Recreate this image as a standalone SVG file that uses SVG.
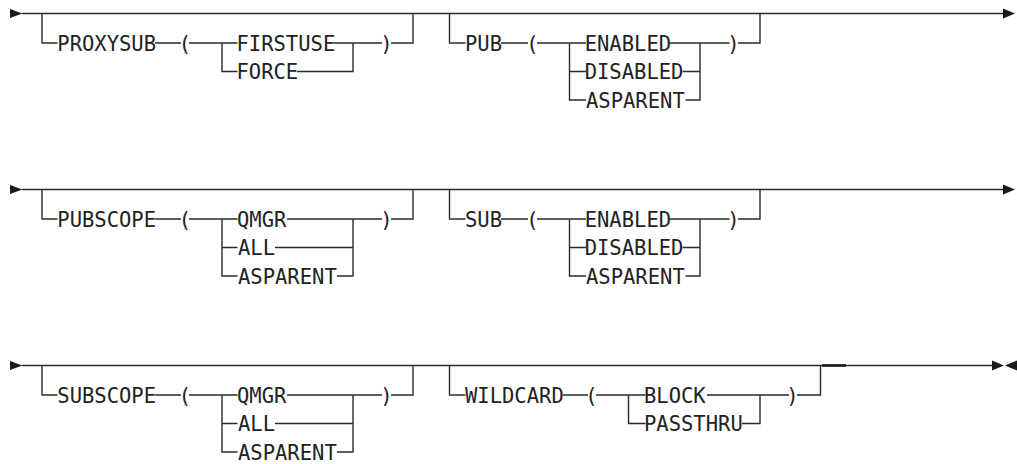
<svg xmlns="http://www.w3.org/2000/svg" width="1017" height="464" viewBox="0 0 1017 464">
<style>
.t{font-family:"DejaVu Sans Mono","Liberation Mono",monospace;font-size:20.5px;fill:#222}
.m{text-anchor:middle}
.c{fill:none;stroke:#2b2b2b;stroke-width:1.4}
.a{fill:#1a1a1a}
</style>
<rect width="1017" height="464" fill="#fff"/>
<g id="connectors">
<!-- row 1 -->
<path class="c" d="M22 13.5H1003"/>
<polygon class="a" points="10,9 10,18 22.5,13.5"/>
<polygon class="a" points="1003,8.5 1003,18.5 1015,13.5"/>
<path class="c" d="M42 13.5V43H57.5M155 43H181M189 43H237.5M222 43V71.5H237.5M334 43H382M297 71.5H353V43M391 43H413V13.5"/>
<path class="c" d="M449.5 13.5V43H465.5M501 43H528M537 43H586M569.5 43V100H586M569.5 71.5H586M670 43H729.5M682.5 71.5H700M685.5 100H700V43M738 43H760V13.5"/>
<!-- row 2 -->
<path class="c" d="M22 189.5H1003"/>
<polygon class="a" points="10,185 10,194 22.5,189.5"/>
<polygon class="a" points="1003,184.5 1003,194.5 1015,189.5"/>
<path class="c" d="M42 189.5V219H57.5M155 219H181M189 219H237.5M222 219V276H237.5M222 247.5H237.5M287 219H382M275 247.5H353M337 276H353V219M391 219H413V189.5"/>
<path class="c" d="M449.5 189.5V219H465.5M501 219H528M537 219H586M569.5 219V276H586M569.5 247.5H586M670 219H729.5M682.5 247.5H700M685.5 276H700V219M738 219H760V189.5"/>
<!-- row 3 -->
<path class="c" d="M22 365.5H993"/>
<polygon class="a" points="10,361 10,370 22.5,365.5"/>
<polygon class="a" points="992,360.5 992,370.5 1004,365.5"/>
<polygon class="a" points="1017,360.5 1017,370.5 1005,365.5"/>
<path class="c" d="M42 365.5V395H57.5M155 395H181M189 395H237.5M222 395V452H237.5M222 423.5H237.5M287 395H382M275 423.5H353M337 452H353V395M391 395H413V365.5"/>
<path class="c" d="M449.5 365.5V395H465.5M563 395H588M596 395H645.5M628.5 395V423.5H645.5M707 395H789M742 423.5H760V395M797 395H820.5V365.5"/>
<path fill="none" stroke="#1a1a1a" stroke-width="2.6" d="M822 365.5H846"/>
</g>
<g id="proxysub">
<text class="t" x="57.3" y="50.5">PROXYSUB</text>
<text class="t m" x="185" y="50.5">(</text>
<text class="t" x="236.5" y="50.5">FIRSTUSE</text>
<text class="t" x="236.5" y="79">FORCE</text>
<text class="t m" x="386.5" y="50.5">)</text>
</g>
<g id="pub">
<text class="t" x="465" y="50.5">PUB</text>
<text class="t m" x="532.5" y="50.5">(</text>
<text class="t" x="584.7" y="50.5">ENABLED</text>
<text class="t" x="584.7" y="79">DISABLED</text>
<text class="t" x="586" y="107.5">ASPARENT</text>
<text class="t m" x="733.5" y="50.5">)</text>
</g>
<g id="pubscope">
<text class="t" x="57.3" y="226.5">PUBSCOPE</text>
<text class="t m" x="185" y="226.5">(</text>
<text class="t" x="237" y="226.5">QMGR</text>
<text class="t" x="238" y="255">ALL</text>
<text class="t" x="238" y="283.5">ASPARENT</text>
<text class="t m" x="386.5" y="226.5">)</text>
</g>
<g id="sub">
<text class="t" x="465" y="226.5">SUB</text>
<text class="t m" x="532.5" y="226.5">(</text>
<text class="t" x="584.7" y="226.5">ENABLED</text>
<text class="t" x="584.7" y="255">DISABLED</text>
<text class="t" x="586" y="283.5">ASPARENT</text>
<text class="t m" x="733.5" y="226.5">)</text>
</g>
<g id="subscope">
<text class="t" x="57.3" y="402.5">SUBSCOPE</text>
<text class="t m" x="185" y="402.5">(</text>
<text class="t" x="237" y="402.5">QMGR</text>
<text class="t" x="238" y="431">ALL</text>
<text class="t" x="238" y="459.5">ASPARENT</text>
<text class="t m" x="386.5" y="402.5">)</text>
</g>
<g id="wildcard">
<text class="t" x="465" y="402.5">WILDCARD</text>
<text class="t m" x="591.5" y="402.5">(</text>
<text class="t" x="644" y="402.5">BLOCK</text>
<text class="t" x="644" y="431">PASSTHRU</text>
<text class="t m" x="792.5" y="402.5">)</text>
</g>
</svg>
